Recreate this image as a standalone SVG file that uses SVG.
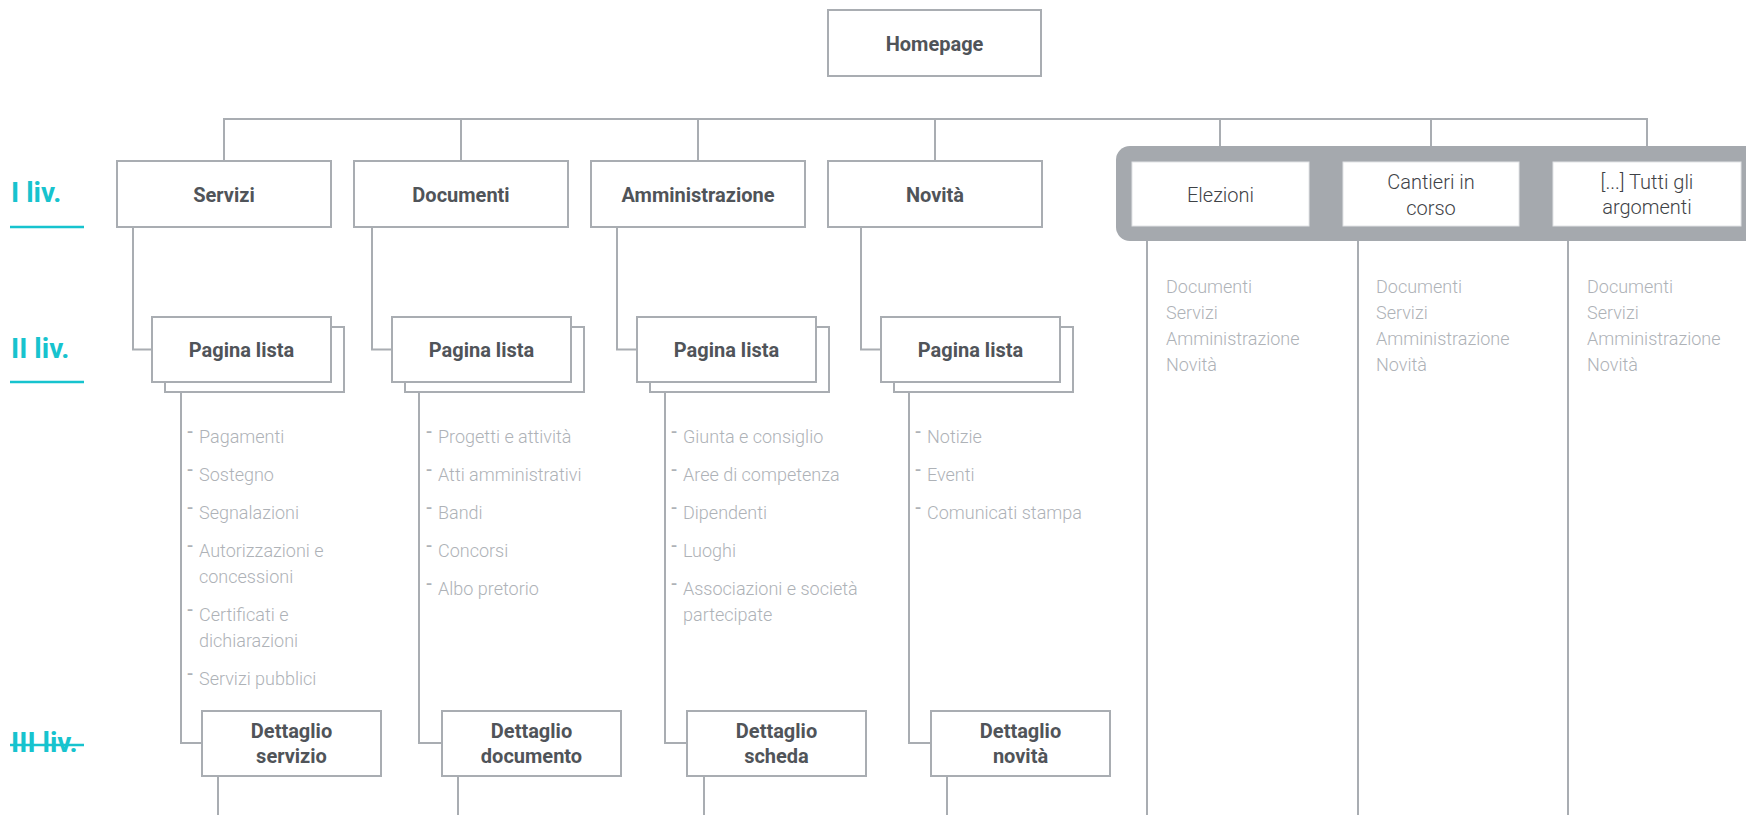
<svg xmlns="http://www.w3.org/2000/svg" width="1746" height="815" viewBox="0 0 1746 815">
<style>
.box{fill:#fff;stroke:#a9adb2;stroke-width:2}
.ln{fill:none;stroke:#a9adb2;stroke-width:2}
.lb{font-family:Roboto,"Liberation Sans",sans-serif;font-weight:700;font-size:20px;fill:#505459;text-anchor:middle}
.tg{font-family:Roboto,"Liberation Sans",sans-serif;font-weight:300;font-size:20px;fill:#3e4246;text-anchor:middle}
.li{font-family:Roboto,"Liberation Sans",sans-serif;font-weight:300;font-size:18px;fill:#aeb2b7}
.li .d{font-weight:500}
.lv{font-family:Roboto,"Liberation Sans",sans-serif;font-weight:700;font-size:28px;fill:#17c3ce}
.lvl{stroke:#17c3ce;stroke-width:2.5}
.wb{fill:#fff;stroke:#e2e4e6;stroke-width:1}
</style>
<rect width="1746" height="815" fill="#fff"/>

<g id="levels">
  <text class="lv" x="11" y="202">I liv.</text>
  <line class="lvl" x1="10" y1="227" x2="84" y2="227"/>
  <text class="lv" x="11" y="358">II liv.</text>
  <line class="lvl" x1="10" y1="382" x2="84" y2="382"/>
  <text class="lv" x="11" y="752">III liv.</text>
  <line class="lvl" x1="10" y1="745" x2="84" y2="745"/>
</g>

<g id="connectors" class="ln">
  <path d="M224 161V119H1647V146"/>
  <path d="M461 119V161M698 119V161M935 119V161M1220 119V146M1431 119V146"/>
  <path d="M133 227V349.5H152M372 227V349.5H392M617 227V349.5H637M861 227V349.5H881"/>
  <path d="M181 392V743H202M419 392V743H442M665 392V743H687M909 392V743H931"/>
  <path d="M218 776V815M458 776V815M704 776V815M947 776V815"/>
  <path d="M1147 241V815M1358 241V815M1568 241V815"/>
</g>

<g id="homepage">
  <rect class="box" x="828" y="10" width="213" height="66"/>
  <text class="lb" x="934.5" y="51">Homepage</text>
</g>

<g id="servizi">
  <rect class="box" x="117" y="161" width="214" height="66"/>
  <text class="lb" x="224" y="202">Servizi</text>
</g>
<g id="documenti">
  <rect class="box" x="354" y="161" width="214" height="66"/>
  <text class="lb" x="461" y="202">Documenti</text>
</g>
<g id="amministrazione">
  <rect class="box" x="591" y="161" width="214" height="66"/>
  <text class="lb" x="698" y="202">Amministrazione</text>
</g>
<g id="novita">
  <rect class="box" x="828" y="161" width="214" height="66"/>
  <text class="lb" x="935" y="202">Novità</text>
</g>

<g id="lista-servizi">
  <rect class="box" x="165" y="327" width="179" height="65"/>
  <rect class="box" x="152" y="317" width="179" height="65"/>
  <text class="lb" x="241.5" y="357">Pagina lista</text>
</g>
<g id="lista-documenti">
  <rect class="box" x="405" y="327" width="179" height="65"/>
  <rect class="box" x="392" y="317" width="179" height="65"/>
  <text class="lb" x="481.5" y="357">Pagina lista</text>
</g>
<g id="lista-amministrazione">
  <rect class="box" x="650" y="327" width="179" height="65"/>
  <rect class="box" x="637" y="317" width="179" height="65"/>
  <text class="lb" x="726.5" y="357">Pagina lista</text>
</g>
<g id="lista-novita">
  <rect class="box" x="894" y="327" width="179" height="65"/>
  <rect class="box" x="881" y="317" width="179" height="65"/>
  <text class="lb" x="970.5" y="357">Pagina lista</text>
</g>

<g id="voci-servizi" class="li">
  <text x="187" y="443"><tspan class="d" dy="-5">-</tspan><tspan x="199" dy="5">Pagamenti</tspan></text>
  <text x="187" y="481"><tspan class="d" dy="-5">-</tspan><tspan x="199" dy="5">Sostegno</tspan></text>
  <text x="187" y="519"><tspan class="d" dy="-5">-</tspan><tspan x="199" dy="5">Segnalazioni</tspan></text>
  <text x="187" y="557"><tspan class="d" dy="-5">-</tspan><tspan x="199" dy="5">Autorizzazioni e</tspan></text>
  <text x="199" y="583">concessioni</text>
  <text x="187" y="621"><tspan class="d" dy="-5">-</tspan><tspan x="199" dy="5">Certificati e</tspan></text>
  <text x="199" y="647">dichiarazioni</text>
  <text x="187" y="685"><tspan class="d" dy="-5">-</tspan><tspan x="199" dy="5">Servizi pubblici</tspan></text>
</g>
<g id="voci-documenti" class="li">
  <text x="426" y="443"><tspan class="d" dy="-5">-</tspan><tspan x="438" dy="5">Progetti e attività</tspan></text>
  <text x="426" y="481"><tspan class="d" dy="-5">-</tspan><tspan x="438" dy="5">Atti amministrativi</tspan></text>
  <text x="426" y="519"><tspan class="d" dy="-5">-</tspan><tspan x="438" dy="5">Bandi</tspan></text>
  <text x="426" y="557"><tspan class="d" dy="-5">-</tspan><tspan x="438" dy="5">Concorsi</tspan></text>
  <text x="426" y="595"><tspan class="d" dy="-5">-</tspan><tspan x="438" dy="5">Albo pretorio</tspan></text>
</g>
<g id="voci-amministrazione" class="li">
  <text x="671" y="443"><tspan class="d" dy="-5">-</tspan><tspan x="683" dy="5">Giunta e consiglio</tspan></text>
  <text x="671" y="481"><tspan class="d" dy="-5">-</tspan><tspan x="683" dy="5">Aree di competenza</tspan></text>
  <text x="671" y="519"><tspan class="d" dy="-5">-</tspan><tspan x="683" dy="5">Dipendenti</tspan></text>
  <text x="671" y="557"><tspan class="d" dy="-5">-</tspan><tspan x="683" dy="5">Luoghi</tspan></text>
  <text x="671" y="595"><tspan class="d" dy="-5">-</tspan><tspan x="683" dy="5">Associazioni e società</tspan></text>
  <text x="683" y="621">partecipate</text>
</g>
<g id="voci-novita" class="li">
  <text x="915" y="443"><tspan class="d" dy="-5">-</tspan><tspan x="927" dy="5">Notizie</tspan></text>
  <text x="915" y="481"><tspan class="d" dy="-5">-</tspan><tspan x="927" dy="5">Eventi</tspan></text>
  <text x="915" y="519"><tspan class="d" dy="-5">-</tspan><tspan x="927" dy="5">Comunicati stampa</tspan></text>
</g>

<g id="dettaglio-servizio">
  <rect class="box" x="202" y="711" width="179" height="65"/>
  <text class="lb" x="291.5" y="738">Dettaglio</text>
  <text class="lb" x="291.5" y="763">servizio</text>
</g>
<g id="dettaglio-documento">
  <rect class="box" x="442" y="711" width="179" height="65"/>
  <text class="lb" x="531.5" y="738">Dettaglio</text>
  <text class="lb" x="531.5" y="763">documento</text>
</g>
<g id="dettaglio-scheda">
  <rect class="box" x="687" y="711" width="179" height="65"/>
  <text class="lb" x="776.5" y="738">Dettaglio</text>
  <text class="lb" x="776.5" y="763">scheda</text>
</g>
<g id="dettaglio-novita">
  <rect class="box" x="931" y="711" width="179" height="65"/>
  <text class="lb" x="1020.5" y="738">Dettaglio</text>
  <text class="lb" x="1020.5" y="763">novità</text>
</g>

<g id="argomenti">
  <rect x="1116" y="146" width="700" height="95" rx="14" fill="#a5a9ae"/>
</g>
<g id="elezioni">
  <rect class="wb" x="1132" y="162" width="177" height="64"/>
  <text class="tg" x="1220.5" y="202">Elezioni</text>
</g>
<g id="cantieri">
  <rect class="wb" x="1343" y="162" width="176" height="64"/>
  <text class="tg" x="1431" y="189">Cantieri in</text>
  <text class="tg" x="1431" y="215">corso</text>
</g>
<g id="tutti-argomenti">
  <rect class="wb" x="1553" y="162" width="188" height="64"/>
  <text class="tg" x="1647" y="189">[...] Tutti gli</text>
  <text class="tg" x="1647" y="214">argomenti</text>
</g>

<g id="voci-elezioni" class="li">
  <text x="1166" y="293">Documenti</text>
  <text x="1166" y="319">Servizi</text>
  <text x="1166" y="345">Amministrazione</text>
  <text x="1166" y="371">Novità</text>
</g>
<g id="voci-cantieri" class="li">
  <text x="1376" y="293">Documenti</text>
  <text x="1376" y="319">Servizi</text>
  <text x="1376" y="345">Amministrazione</text>
  <text x="1376" y="371">Novità</text>
</g>
<g id="voci-tutti" class="li">
  <text x="1587" y="293">Documenti</text>
  <text x="1587" y="319">Servizi</text>
  <text x="1587" y="345">Amministrazione</text>
  <text x="1587" y="371">Novità</text>
</g>
</svg>
